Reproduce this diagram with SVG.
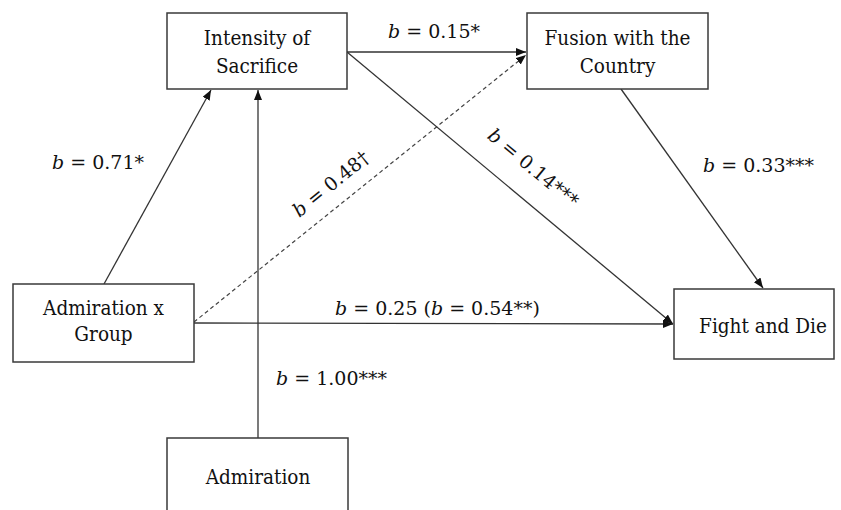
<svg xmlns="http://www.w3.org/2000/svg" width="841" height="510" viewBox="0 0 841 510">
<style>
.box{fill:#fff;stroke:#3a3a3a;stroke-width:1.5}
.t{font-family:"DejaVu Serif",serif;font-size:19px;fill:#111}
.n{font-family:"DejaVu Serif Condensed","DejaVu Serif",serif;font-size:20.5px;fill:#111}
.c{text-anchor:middle}
.ln{stroke:#333;stroke-width:1.3;fill:none}
.dash{stroke:#444;stroke-width:1.2;stroke-dasharray:4 3;fill:none}
.i{font-style:italic}
</style>
<defs>
<marker id="ah" markerUnits="userSpaceOnUse" markerWidth="11" markerHeight="9" refX="10" refY="4" orient="auto">
<path d="M0,0 L10,4 L0,8 Z" fill="#111"/>
</marker>
</defs>
<rect width="841" height="510" fill="#fff"/>
<g id="connectors">
<line class="ln" x1="258" y1="438" x2="258" y2="90" marker-end="url(#ah)"/>
<line class="ln" x1="104" y1="284" x2="211" y2="90" marker-end="url(#ah)"/>
<line class="ln" x1="347" y1="52" x2="526" y2="52" marker-end="url(#ah)"/>
<line class="dash" x1="194" y1="322" x2="526" y2="55" marker-end="url(#ah)"/>
<line class="ln" x1="347" y1="52" x2="673" y2="324" marker-end="url(#ah)"/>
<line class="ln" x1="194" y1="323" x2="673" y2="324" marker-end="url(#ah)"/>
<line class="ln" x1="621" y1="89" x2="763" y2="288" marker-end="url(#ah)"/>
</g>
<g id="labels">
<text class="t" x="52" y="169"><tspan class="i">b</tspan> = 0.71*</text>
<text class="t" x="388" y="38"><tspan class="i">b</tspan> = 0.15*</text>
<text class="t" x="703" y="172"><tspan class="i">b</tspan> = 0.33***</text>
<text class="t" x="335" y="315"><tspan class="i">b</tspan> = 0.25 (<tspan class="i">b</tspan> = 0.54**)</text>
<text class="t" x="276" y="385"><tspan class="i">b</tspan> = 1.00***</text>
<text class="t c" transform="translate(335,189) rotate(-39)"><tspan class="i">b</tspan> = 0.48†</text>
<text class="t c" transform="translate(529,173) rotate(39.7)"><tspan class="i">b</tspan> = 0.14***</text>
</g>
<g id="intensity">
<rect class="box" x="167" y="13" width="180" height="76"/>
<text class="n c" x="257" y="45">Intensity of</text>
<text class="n c" x="257" y="73">Sacrifice</text>
</g>
<g id="fusion">
<rect class="box" x="527" y="13" width="181" height="76"/>
<text class="n c" x="617.5" y="45">Fusion with the</text>
<text class="n c" x="617.5" y="73">Country</text>
</g>
<g id="admiration-x-group">
<rect class="box" x="13" y="284" width="181" height="78"/>
<text class="n c" x="103.5" y="315">Admiration x</text>
<text class="n c" x="103.5" y="341">Group</text>
</g>
<g id="fight-and-die">
<rect class="box" x="674" y="289" width="160" height="70"/>
<text class="n c" x="763" y="333">Fight and Die</text>
</g>
<g id="admiration">
<rect class="box" x="167" y="438" width="181" height="80"/>
<text class="n c" x="258" y="484">Admiration</text>
</g>
</svg>
